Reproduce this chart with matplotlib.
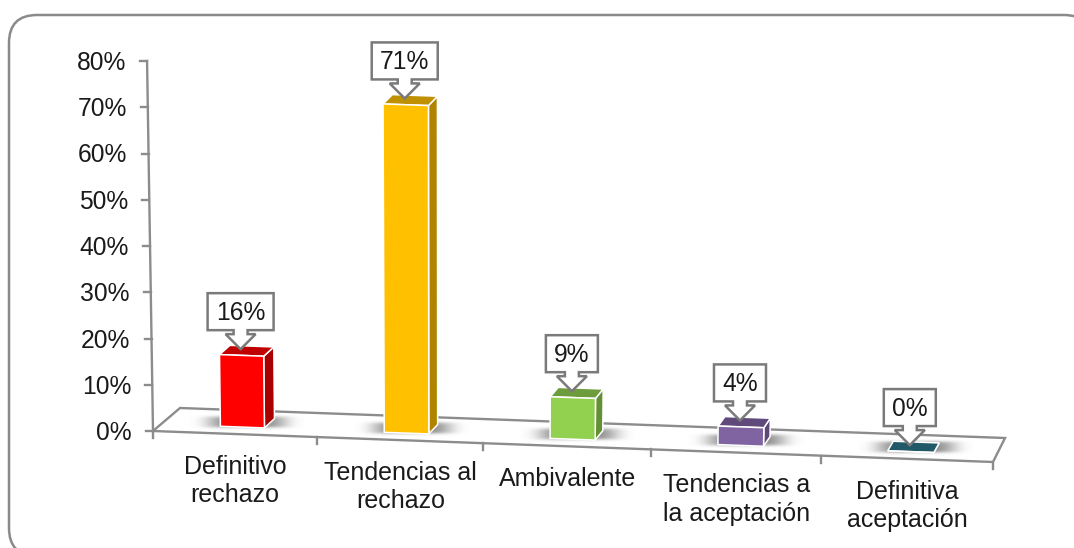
import numpy as np
import matplotlib
matplotlib.use("Agg")
import matplotlib.pyplot as plt
from matplotlib.patches import Polygon, FancyBboxPatch

plt.rcParams['font.family'] = ['Liberation Sans', 'DejaVu Sans']

categories = ["Definitivo\nrechazo", "Tendencias al\nrechazo", "Ambivalente",
              "Tendencias a\nla aceptación", "Definitiva\naceptación"]
values = [15.5, 71, 9, 4, 0]
value_labels = ["16%", "71%", "9%", "4%", "0%"]
y_ticks = [0, 10, 20, 30, 40, 50, 60, 70, 80]
front_colors = ["#ff0000", "#ffc000", "#92d050", "#8064a2", "#215968"]
side_colors = ["#a80000", "#b08400", "#649035", "#5c4776", "#215968"]
top_colors = ["#c00000", "#bf9000", "#6d9c3c", "#604a7b", "#215968"]

GRID = "#8c8c8c"
TEXT = "#1a1a1a"


def project(u, d, v):
    """Category position u, floor depth d (0 front, 1 back), value v -> pixel."""
    x = 153 + 163 * u + u ** 2
    y = 431 + 0.0369 * (x - 153)
    dx = 27 - 3 * u
    dy = -23 - 0.2 * u
    x = x + dx * d
    y = y + dy * d
    return x + v * (x - 450) * 0.00025, y - v * 4.625


fig = plt.figure(figsize=(10.74, 5.48), dpi=100, facecolor="white")
ax = fig.add_axes([0, 0, 1, 1])
ax.axis("off")

# soft shadow texture shared by all the bars
gx, gy = np.meshgrid(np.linspace(-1, 1, 110), np.linspace(-1, 1, 24))
shadow = np.zeros(gx.shape + (4,))
shadow[..., :3] = 0.42
shadow[..., 3] = 0.8 * np.exp(-(np.abs(gx) / 0.68) ** 4) * np.exp(-(np.abs(gy) / 0.6) ** 4)

# outer rounded frame, running off the right and bottom of the picture
ax.add_patch(FancyBboxPatch((9, 15), 1083, 541, boxstyle="round,pad=0,rounding_size=28",
                            fc="white", ec="#8a8a8a", lw=1.8, zorder=0))

n = len(categories)
# floor
floor = [project(0, 0, 0), project(n, 0, 0), project(n, 1, 0), project(0, 1, 0)]
ax.add_patch(Polygon(floor, closed=True, fc="white", ec=GRID, lw=1.7, zorder=1))

# value axis
ax.plot(*zip(project(0, 0, 0), project(0, 0, y_ticks[-1])), color=GRID, lw=1.7, zorder=1)
for t in y_ticks:
    x, y = project(0, 0, t)
    ax.plot([x - 7, x], [y, y], color=GRID, lw=1.7, zorder=1)
    ax.text(x - 21, y + 2, f"{t}%", ha="right", va="center", fontsize=17.7, color=TEXT)

# category axis
for i in range(n + 1):
    x, y = project(i, 0, 0)
    ax.plot([x, x], [y, y + 7], color=GRID, lw=1.7, zorder=1)

for i, c in enumerate(categories):
    x, y = project(i + 0.5, 0, 0)
    lines = c.count("\n") + 1
    ax.text(x + 0.5, y + 18 + 14.5 * lines, c, ha="center", va="center", fontsize=18,
            color=TEXT, linespacing=1.22)

# bars
half = 0.135
d0, d1 = 0.3, 0.7
for i, v in enumerate(values):
    u = i + 0.5
    l, r = u - half, u + half
    bx, by = project(u, d0, 0)
    ax.imshow(shadow, extent=(bx - 53, bx + 63, by + 5, by - 15), aspect="auto",
              interpolation="bilinear", zorder=2)
    lw = 1.1
    ax.add_patch(Polygon([project(r, d0, 0), project(r, d1, 0), project(r, d1, v), project(r, d0, v)],
                         fc=side_colors[i], ec="white", lw=lw, zorder=3))
    ax.add_patch(Polygon([project(l, d0, v), project(r, d0, v), project(r, d1, v), project(l, d1, v)],
                         fc=top_colors[i], ec="white", lw=lw, zorder=3))
    ax.add_patch(Polygon([project(l, d0, 0), project(r, d0, 0), project(r, d0, v), project(l, d0, v)],
                         fc=front_colors[i], ec="white", lw=lw, zorder=4))

    # callout
    tx = project(u, d0, v)[0] - 1
    ty = project(u, d1, v)[1] + 3
    w = 33 if len(value_labels[i]) == 3 else 26
    shape = [(tx - w, ty - 56), (tx + w, ty - 56), (tx + w, ty - 19),
             (tx + 7, ty - 19), (tx + 7, ty - 15), (tx + 15, ty - 15), (tx, ty),
             (tx - 15, ty - 15), (tx - 7, ty - 15), (tx - 7, ty - 19), (tx - w, ty - 19)]
    ax.add_patch(Polygon(shape, closed=True, fc="white", ec="#7a7a7a", lw=1.8,
                         joinstyle="miter", zorder=5))
    ax.text(tx, ty - 36, value_labels[i], ha="center", va="center", fontsize=17.7,
            color=TEXT, zorder=6)

ax.set_xlim(0, 1074)
ax.set_ylim(548, 0)
fig.savefig("out.png", dpi=100)
